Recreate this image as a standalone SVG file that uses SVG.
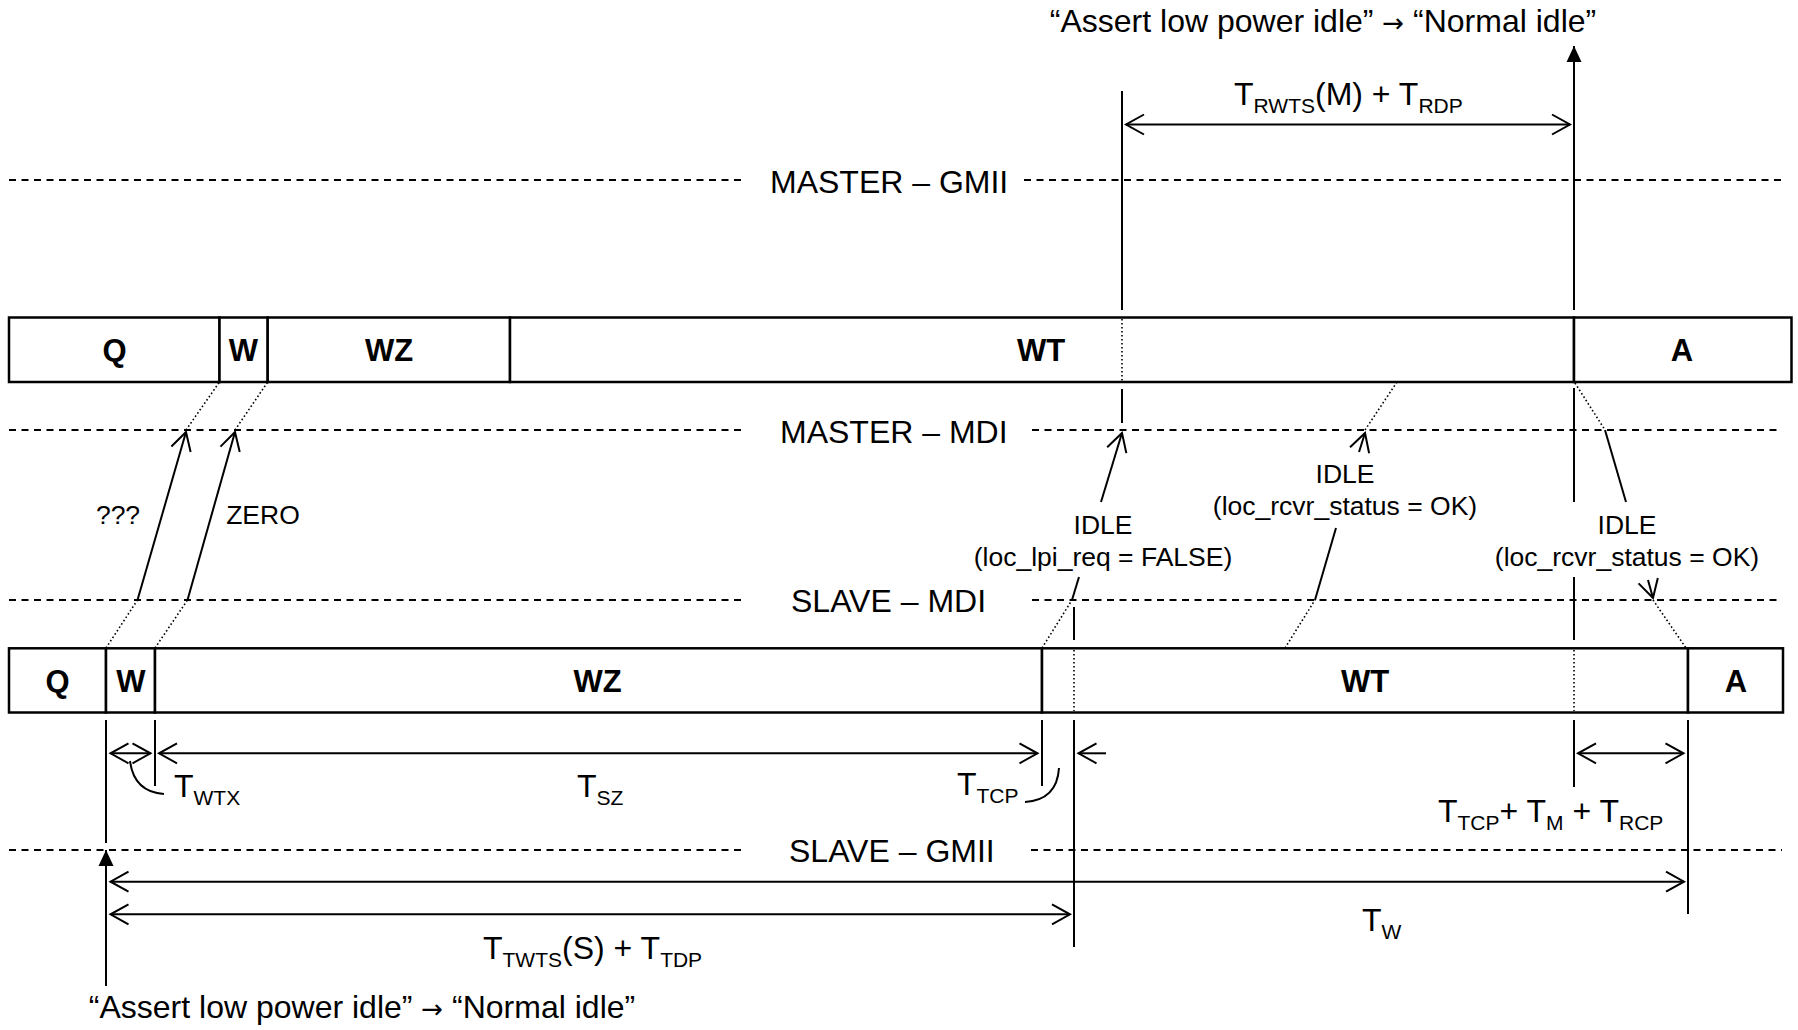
<svg xmlns="http://www.w3.org/2000/svg" width="1798" height="1030" viewBox="0 0 1798 1030">
<style>
.t{font-family:"Liberation Sans",Arial,sans-serif;font-size:32px;fill:#000}
.s{font-size:21px}
.ar{font-family:"DejaVu Sans",sans-serif;font-size:26px}
.lbl{font-family:"Liberation Sans",Arial,sans-serif;font-size:26.5px;fill:#000;text-anchor:middle}
.b{font-family:"Liberation Sans",Arial,sans-serif;font-size:31px;font-weight:bold;text-anchor:middle;fill:#000}
.ln{stroke:#000;stroke-width:2;fill:none}
.dash{stroke:#000;stroke-width:2;stroke-dasharray:7 5.5;fill:none}
.dot{stroke:#000;stroke-width:1.6;stroke-dasharray:1.6 2.4;fill:none}
.bar{fill:#fff;stroke:#000;stroke-width:2.5}
.oa{marker-end:url(#open)}
.da{marker-start:url(#open);marker-end:url(#open)}
</style>
<defs>
<marker id="open" markerUnits="userSpaceOnUse" viewBox="-22 -13 24 26" markerWidth="24" markerHeight="26" refX="0" refY="0" orient="auto-start-reverse" overflow="visible">
<path d="M-18,-10 L0,0 L-18,10" fill="none" stroke="#000" stroke-width="2"/>
</marker>
<marker id="fill" markerUnits="userSpaceOnUse" viewBox="-18 -9 20 18" markerWidth="20" markerHeight="18" refX="0" refY="0" orient="auto" overflow="visible">
<path d="M-16,-7.5 L0,0 L-16,7.5 Z" fill="#000"/>
</marker>
</defs>
<rect width="1798" height="1030" fill="#fff"/>

<g id="lanes">
<line class="dash" x1="9" y1="180" x2="742" y2="180"/><line class="dash" x1="1024" y1="180" x2="1782" y2="180"/>
<text class="t" x="770" y="193">MASTER – GMII</text>
<line class="dash" x1="9" y1="430" x2="745" y2="430"/><line class="dash" x1="1032" y1="430" x2="1782" y2="430"/>
<text class="t" x="780" y="443">MASTER – MDI</text>
<line class="dash" x1="9" y1="600" x2="745" y2="600"/><line class="dash" x1="1032" y1="600" x2="1782" y2="600"/>
<text class="t" x="791" y="612">SLAVE – MDI</text>
<line class="dash" x1="9" y1="850" x2="744" y2="850"/><line class="dash" x1="1031" y1="850" x2="1782" y2="850"/>
<text class="t" x="789" y="862">SLAVE – GMII</text>
</g>

<g id="master-Q"><rect class="bar" x="9" y="317.5" width="210.5" height="64.5"/><text class="b" x="114.5" y="361">Q</text></g>
<g id="master-W"><rect class="bar" x="219.5" y="317.5" width="48.2" height="64.5"/><text class="b" x="243.5" y="361">W</text></g>
<g id="master-WZ"><rect class="bar" x="267.7" y="317.5" width="242.3" height="64.5"/><text class="b" x="389" y="361">WZ</text></g>
<g id="master-WT"><rect class="bar" x="510" y="317.5" width="1064" height="64.5"/><text class="b" x="1041" y="361">WT</text></g>
<g id="master-A"><rect class="bar" x="1574" y="317.5" width="217.5" height="64.5"/><text class="b" x="1682" y="361">A</text></g>

<g id="slave-Q"><rect class="bar" x="9" y="648.3" width="97" height="64.2"/><text class="b" x="57.5" y="692">Q</text></g>
<g id="slave-W"><rect class="bar" x="106" y="648.3" width="49" height="64.2"/><text class="b" x="131" y="692">W</text></g>
<g id="slave-WZ"><rect class="bar" x="155" y="648.3" width="887" height="64.2"/><text class="b" x="597.5" y="692">WZ</text></g>
<g id="slave-WT"><rect class="bar" x="1042" y="648.3" width="646" height="64.2"/><text class="b" x="1365" y="692">WT</text></g>
<g id="slave-A"><rect class="bar" x="1688" y="648.3" width="95" height="64.2"/><text class="b" x="1736" y="692">A</text></g>

<g id="connectors">
<line class="ln" x1="1122" y1="91" x2="1122" y2="310"/>
<line class="dot" x1="1122" y1="319" x2="1122" y2="381"/>
<line class="ln" x1="1122" y1="389" x2="1122" y2="423"/>
<line class="ln" x1="1574" y1="310" x2="1574" y2="46" marker-end="url(#fill)"/>
<line class="ln" x1="1574" y1="388" x2="1574" y2="502"/>
<line class="ln" x1="1574" y1="577" x2="1574" y2="640"/>
<line class="dot" x1="1574" y1="650" x2="1574" y2="711"/>
<line class="ln" x1="1574" y1="720" x2="1574" y2="787"/>
<line class="ln da" x1="1126" y1="124.5" x2="1570" y2="124.5"/>
<line class="ln" x1="106" y1="720" x2="106" y2="843"/>
<line class="ln" x1="106" y1="986" x2="106" y2="850" marker-end="url(#fill)"/>
<line class="ln" x1="155" y1="720" x2="155" y2="786"/>
<line class="ln" x1="1042" y1="720" x2="1042" y2="786"/>
<line class="ln" x1="1074" y1="607" x2="1074" y2="640"/>
<line class="dot" x1="1074" y1="650" x2="1074" y2="711"/>
<line class="ln" x1="1074" y1="720" x2="1074" y2="947"/>
<line class="ln" x1="1688" y1="720" x2="1688" y2="914"/>
<line class="ln da" x1="110.5" y1="753.3" x2="150.5" y2="753.3"/>
<line class="ln da" x1="159" y1="753.3" x2="1037.5" y2="753.3"/>
<line class="ln oa" x1="1106" y1="753.3" x2="1078.5" y2="753.3"/>
<line class="ln da" x1="1578" y1="753.3" x2="1683.5" y2="753.3"/>
<line class="ln da" x1="110.5" y1="881.7" x2="1684" y2="881.7"/>
<line class="ln da" x1="110.5" y1="914.3" x2="1070" y2="914.3"/>
<path class="ln" d="M130,761 Q134,792 164,794"/>
<path class="ln" d="M1059,768 Q1057,800 1025,802"/>
<line class="dot" x1="106" y1="648" x2="137.5" y2="600"/>
<line class="ln oa" x1="137.5" y1="600" x2="186" y2="432"/>
<line class="dot" x1="186" y1="430" x2="219.5" y2="382"/>
<line class="dot" x1="155" y1="648" x2="187.5" y2="600"/>
<line class="ln oa" x1="187.5" y1="600" x2="235" y2="432"/>
<line class="dot" x1="235" y1="430" x2="267.7" y2="382"/>
<line class="dot" x1="1042" y1="648" x2="1072" y2="600"/>
<line class="ln" x1="1072" y1="600" x2="1079" y2="577"/>
<line class="ln oa" x1="1101" y1="502" x2="1122" y2="433"/>
<line class="dot" x1="1285" y1="648" x2="1315" y2="600"/>
<line class="ln" x1="1315" y1="600" x2="1336" y2="528"/>
<line class="ln oa" x1="1359" y1="452" x2="1365" y2="433"/>
<line class="dot" x1="1365" y1="430" x2="1397" y2="382"/>
<line class="dot" x1="1575" y1="383" x2="1605" y2="430"/>
<line class="ln" x1="1605" y1="430" x2="1626" y2="502"/>
<line class="ln oa" x1="1648" y1="580" x2="1653" y2="598"/>
<line class="dot" x1="1653" y1="600" x2="1686" y2="648"/>
</g>

<g id="labels">
<text class="t" x="1323" y="32" text-anchor="middle">“Assert low power idle” <tspan class="ar">→</tspan> “Normal idle”</text>
<text class="t" x="362" y="1018" text-anchor="middle">“Assert low power idle” <tspan class="ar">→</tspan> “Normal idle”</text>
<text class="t" x="1234" y="105">T<tspan class="s" dy="8">RWTS</tspan><tspan dy="-8">(M) + T</tspan><tspan class="s" dy="8">RDP</tspan></text>
<text class="lbl" x="118" y="524">???</text>
<text class="lbl" x="263" y="524">ZERO</text>
<text class="lbl" x="1103" y="534">IDLE</text>
<text class="lbl" x="1103" y="566">(loc_lpi_req = FALSE)</text>
<text class="lbl" x="1345" y="483">IDLE</text>
<text class="lbl" x="1345" y="515">(loc_rcvr_status = OK)</text>
<text class="lbl" x="1627" y="534">IDLE</text>
<text class="lbl" x="1627" y="566">(loc_rcvr_status = OK)</text>
<text class="t" x="174" y="797">T<tspan class="s" dy="8">WTX</tspan></text>
<text class="t" x="577" y="797">T<tspan class="s" dy="8">SZ</tspan></text>
<text class="t" x="957" y="795">T<tspan class="s" dy="8">TCP</tspan></text>
<text class="t" x="1438" y="822">T<tspan class="s" dy="8">TCP</tspan><tspan dy="-8">+ T</tspan><tspan class="s" dy="8">M</tspan><tspan dy="-8"> + T</tspan><tspan class="s" dy="8">RCP</tspan></text>
<text class="t" x="1362" y="931">T<tspan class="s" dy="8">W</tspan></text>
<text class="t" x="483" y="959">T<tspan class="s" dy="8">TWTS</tspan><tspan dy="-8">(S) + T</tspan><tspan class="s" dy="8">TDP</tspan></text>
</g>
</svg>
